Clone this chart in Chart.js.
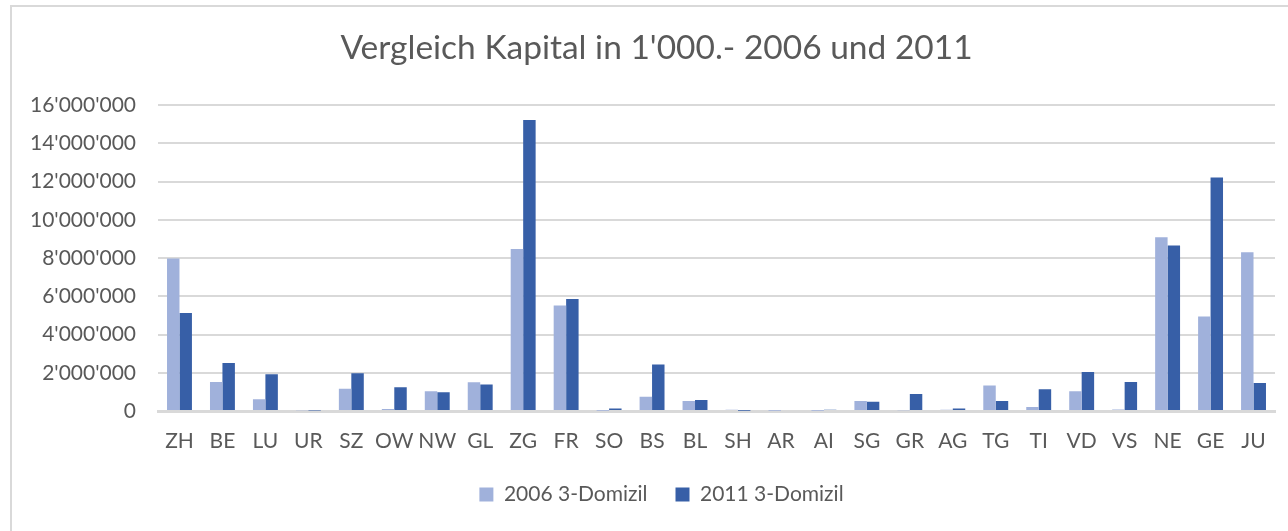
<!DOCTYPE html>
<html>
<head>
<meta charset="utf-8">
<script src="https://cdn.jsdelivr.net/npm/chart.js@4/dist/chart.umd.min.js"></script>
<style>
  html, body { margin: 0; padding: 0; background: #fff; overflow: hidden; }
  #frame { position: absolute; left: 10px; top: 5px; width: 1300px; height: 560px; border: 2px solid #d9d9d9; }
  #chart { position: absolute; left: 0; top: 0; }
</style>
</head>
<body>
<div id="frame"></div>
<canvas id="chart" width="1288" height="531"></canvas>
<script>
// Kantone
const kantone = ['ZH', 'BE', 'LU', 'UR', 'SZ', 'OW', 'NW', 'GL', 'ZG', 'FR', 'SO', 'BS', 'BL',
  'SH', 'AR', 'AI', 'SG', 'GR', 'AG', 'TG', 'TI', 'VD', 'VS', 'NE', 'GE', 'JU'];

// Kapital in 1'000.- (aus dem Bild geschätzt)
const werte2006 = [7980000, 1520000, 610000, 40000, 1170000, 110000, 1030000, 1500000, 8480000, 5520000,
  10000, 750000, 520000, 70000, 10000, 10000, 520000, 40000, 70000, 1330000,
  210000, 1030000, 80000, 9090000, 4940000, 8310000];
const werte2011 = [5130000, 2510000, 1920000, 20000, 1970000, 1240000, 980000, 1380000, 15220000, 5860000,
  130000, 2430000, 580000, 10000, 50000, 70000, 490000, 890000, 130000, 520000,
  1140000, 2040000, 1520000, 8660000, 12220000, 1470000];

// Achsenbeschriftung
const yTicks = ["0", "2'000'000", "4'000'000", "6'000'000", "8'000'000", "10'000'000",
  "12'000'000", "14'000'000", "16'000'000"];

const grau = '#595959';
const schrift = 'Lato, "Open Sans", sans-serif';

// Titel und Legende wie im Original etwas nach rechts (Mitte des Rahmens)
const verschieben = {
  id: 'verschieben',
  afterLayout(chart) {
    chart.titleBlock.left += 7;
    chart.titleBlock.right += 7;
    chart.legend.left += 12;
    chart.legend.right += 12;
  }
};

const ctx = document.getElementById('chart').getContext('2d');
const chart = new Chart(ctx, {
  type: 'bar',
  data: {
    labels: kantone,
    datasets: [
      { label: '2006 3-Domizil', data: werte2006, backgroundColor: '#a0b1db', borderWidth: 0 },
      { label: '2011 3-Domizil', data: werte2011, backgroundColor: '#375fa7', borderWidth: 0 }
    ]
  },
  options: {
    responsive: false,
    animation: false,
    categoryPercentage: 0.58,
    barPercentage: 1.0,
    layout: { padding: { left: 24, right: 13, top: 0, bottom: 16 } },
    scales: {
      x: {
        grid: { display: false, drawTicks: false },
        border: { color: '#d9d9d9', width: 3 },
        ticks: { color: grau, font: { family: schrift, size: 21 }, padding: 18, maxRotation: 0, autoSkip: false },
        afterFit: (scale) => { scale.height = 45; }
      },
      y: {
        min: 0,
        max: 16000000,
        ticks: {
          stepSize: 2000000,
          color: grau,
          font: { family: schrift, size: 21 },
          padding: 22,
          callback: (value, index) => yTicks[index]
        },
        grid: { color: '#d9d9d9', lineWidth: 2, drawTicks: false },
        border: { display: false },
        afterFit: (scale) => { scale.width = 134; }
      }
    },
    plugins: {
      title: {
        display: true,
        text: "Vergleich Kapital in 1'000.- 2006 und 2011",
        color: grau,
        font: { family: schrift, size: 33.5, weight: 'normal' },
        padding: { top: 28, bottom: 37 }
      },
      legend: {
        position: 'bottom',
        labels: {
          color: grau,
          font: { family: schrift, size: 21 },
          boxWidth: 14,
          boxHeight: 14,
          padding: 28
        }
      },
      tooltip: { enabled: false }
    }
  },
  plugins: [verschieben]
});
</script>
</body>
</html>
